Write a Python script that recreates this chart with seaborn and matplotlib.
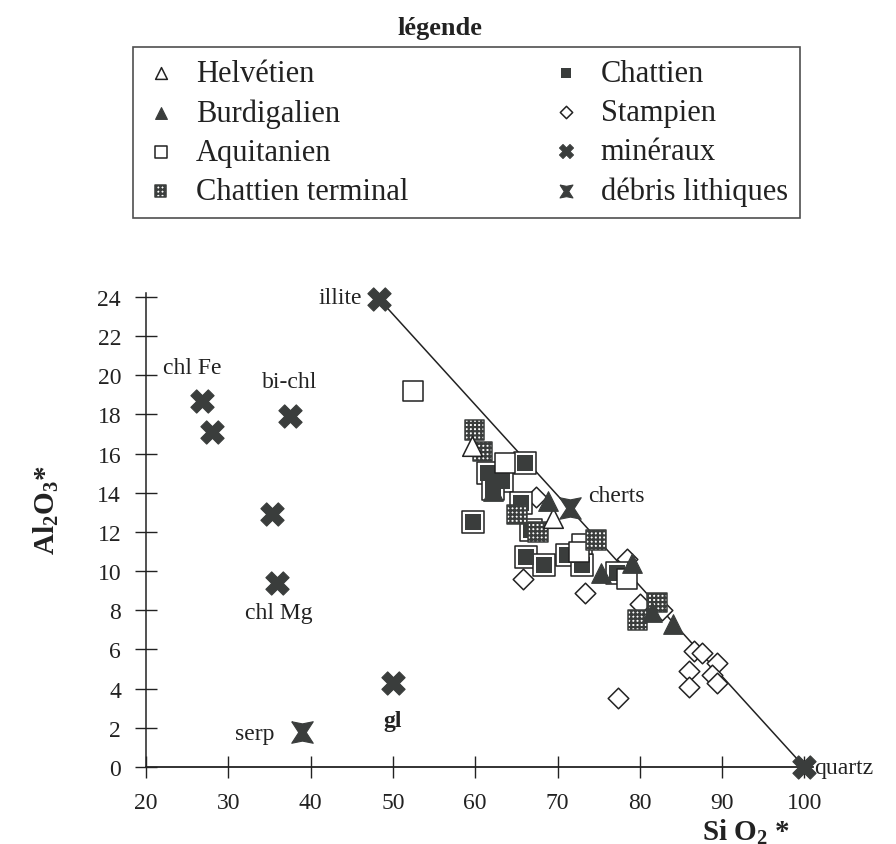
import numpy as np
import pandas as pd
import matplotlib
matplotlib.use('Agg')
import matplotlib.pyplot as plt
from matplotlib.markers import MarkerStyle
import seaborn as sns

# samples, Si O2* / Al2O3*
helvetien_x = [59.6, 69.4]
helvetien_y = [16.4, 12.7]
burdigalien_x = [68.8, 75.3, 79.0, 81.5, 84.0, 62.1]
burdigalien_y = [13.6, 9.9, 10.4, 7.9, 7.3, 14.1]
aquitanien_x = [52.4, 63.6, 73.0, 78.5, 72.6]
aquitanien_y = [19.2, 15.5, 11.4, 9.6, 11.0]
chatt_term_x = [59.9, 60.9, 65.1, 67.6, 74.7, 79.7, 82.1]
chatt_term_y = [17.2, 16.1, 12.9, 12.0, 11.6, 7.5, 8.4]
chattien_x = [59.7, 61.5, 63.3, 66.0, 62.1, 65.6, 66.8, 66.2, 68.4, 71.2, 73.0, 77.2]
chattien_y = [12.5, 15.0, 14.6, 15.5, 14.2, 13.5, 12.1, 10.7, 10.3, 10.8, 10.3, 9.9]
stampien_x = [65.8, 67.4, 73.3, 77.3, 78.4, 80.0, 82.7, 86.6, 87.6, 86.0, 86.0, 89.4, 88.8, 89.4]
stampien_y = [9.6, 13.8, 8.9, 3.5, 10.6, 8.3, 8.0, 5.9, 5.8, 4.9, 4.1, 5.3, 4.7, 4.3]

# reference minerals and lithic debris
min_names = ['illite', 'chl Fe', '', 'bi-chl', '', 'chl Mg', 'gl', 'quartz']
min_x = [48.3, 26.8, 28.0, 37.5, 35.3, 35.9, 50.0, 100.0]
min_y = [23.9, 18.7, 17.1, 17.9, 12.9, 9.4, 4.3, 0.0]
deb_names = ['serp', 'cherts']
deb_x = [39.0, 71.5]
deb_y = [1.8, 13.2]

xticks = list(range(20, 101, 10))
yticks = list(range(0, 25, 2))

sns.set_style('ticks')
plt.rcParams['font.family'] = ['Liberation Serif', 'DejaVu Serif']
plt.rcParams['mathtext.fontset'] = 'custom'
plt.rcParams['mathtext.rm'] = 'Liberation Serif'
plt.rcParams['mathtext.bf'] = 'Liberation Serif:bold'
plt.rcParams['hatch.color'] = '#3a3a3a'
plt.rcParams['hatch.linewidth'] = 1.6

ink = '#222222'
dark = '#3a3d3c'

fig = plt.figure(figsize=(8.96, 8.45), dpi=100)
ax = fig.add_axes([0.163, 0.0911, 0.744, 0.561])

# mixing line illite - quartz
sns.lineplot(x=[min_x[0], min_x[-1]], y=[min_y[0], min_y[-1]], ax=ax, color=ink, lw=1.1)

handles = {}

def pts(x, y, name, **kw):
    sns.scatterplot(x=x, y=y, ax=ax, legend=False, clip_on=False, zorder=3, **kw)
    handles[name] = ax.collections[-1]

hourglass = MarkerStyle([(-1, 1), (0, 0.8), (1, 1), (0.35, 0), (1, -1), (0, -0.8), (-1, -1), (-0.35, 0), (-1, 1)])

pts(stampien_x, stampien_y, 'Stampien', marker='D', s=110, color='white', edgecolor=ink, linewidth=1.1)
sns.scatterplot(x=chattien_x, y=chattien_y, ax=ax, legend=False, marker='s', s=250,
                color='white', edgecolor=ink, linewidth=1.1, zorder=3)
pts(chattien_x, chattien_y, 'Chattien', marker='s', s=140, color=dark, edgecolor=dark, linewidth=0)
pts(aquitanien_x, aquitanien_y, 'Aquitanien', marker='s', s=200, color='white', edgecolor=ink, linewidth=1.1)
pts(chatt_term_x, chatt_term_y, 'Chattien terminal', marker='s', s=200, color='white',
    edgecolor=dark, linewidth=1.1, hatch='++++')
pts(helvetien_x, helvetien_y, 'Helvétien', marker='^', s=200, color='white', edgecolor=ink, linewidth=1.1)
pts(burdigalien_x, burdigalien_y, 'Burdigalien', marker='^', s=200, color=dark, edgecolor=dark, linewidth=0.8)
pts(min_x, min_y, 'minéraux', marker='X', s=280, color=dark, edgecolor=dark, linewidth=0.8)
pts(deb_x, deb_y, 'débris lithiques', marker=hourglass, s=240, color=dark, edgecolor=dark, linewidth=0.8)

# mineral labels
fs = 17
offsets = [(-12, 1), (-7, 24), None, (0, 25), None, (1.5, -21), (0, -27), (7, 0)]
aligns = ['right', 'center', None, 'center', None, 'center', 'center', 'left']
for name, x, y, off, ha in zip(min_names, min_x, min_y, offsets, aligns):
    if name:
        ax.annotate(name, (x, y), xytext=off, textcoords='offset points', ha=ha, va='center',
                    fontsize=fs, color=ink, fontweight='bold' if name == 'gl' else 'normal')
ax.annotate(deb_names[0], (deb_x[0], deb_y[0]), xytext=(-20, -1), textcoords='offset points',
            ha='right', va='center', fontsize=fs, color=ink)
ax.annotate(deb_names[1], (deb_x[1], deb_y[1]), xytext=(13, 9), textcoords='offset points',
            ha='left', va='center', fontsize=fs, color=ink)

ax.set_xlim(20, 101)
ax.set_ylim(0, 24.2)
ax.set_xticks(xticks)
ax.set_yticks(yticks)
ax.tick_params(axis='both', direction='inout', length=16, width=1.0, color=ink,
               labelsize=fs, labelcolor=ink, pad=10)
sns.despine(ax=ax)
ax.spines['left'].set_color(ink)
ax.spines['bottom'].set_color(ink)
ax.spines['left'].set_linewidth(1.1)
ax.spines['bottom'].set_linewidth(1.3)

ax.set_ylabel(r'Al$_\mathbf{2}$O$_\mathbf{3}$*', fontsize=21, fontweight='bold', color=ink)
ax.yaxis.set_label_coords(-0.128, 0.545)
ax.set_xlabel(r'Si O$_\mathbf{2}$ *', fontsize=21, fontweight='bold', color=ink)
ax.xaxis.set_label_coords(0.9, -0.103)

# legend
lfs = 22
order = ['Helvétien', 'Burdigalien', 'Aquitanien', 'Chattien terminal',
         'Chattien', 'Stampien', 'minéraux', 'débris lithiques']
leg = fig.legend([handles[k] for k in order], order, ncol=2, loc='upper left',
                 bbox_to_anchor=(133 / 896, 1 - 48 / 845, (800 - 133) / 896, 0),
                 mode='expand', fontsize=lfs, frameon=True, fancybox=False, borderaxespad=0,
                 borderpad=0.4, labelspacing=0.33, handlelength=1.0, handletextpad=0.65,
                 columnspacing=1.0, markerscale=0.6)
leg.get_frame().set_edgecolor(ink)
leg.get_frame().set_linewidth(1.2)
for t in leg.get_texts():
    t.set_color(ink)
fig.text(440 / 896, 1 - 28 / 845, 'légende', ha='center', va='center', fontsize=19,
         fontweight='bold', color=ink)

fig.savefig('out.png', dpi=100)
